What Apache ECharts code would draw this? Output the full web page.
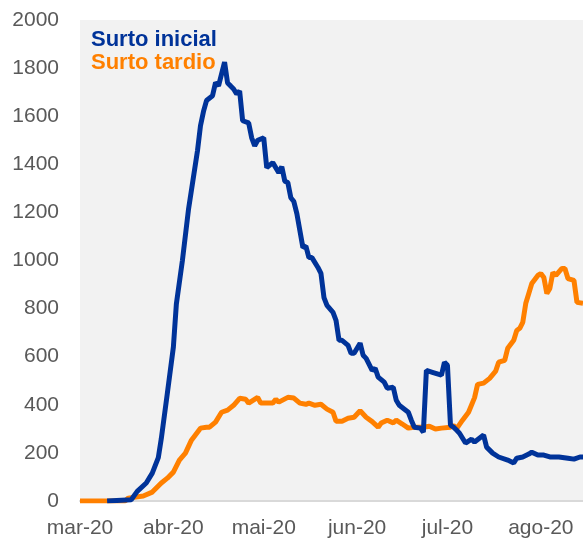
<!DOCTYPE html>
<html>
<head>
<meta charset="utf-8">
<script src="https://cdn.jsdelivr.net/npm/echarts@6/dist/echarts.min.js"></script>
<style>
  html, body { margin: 0; padding: 0; background: #fff; }
  #chart { width: 583px; height: 540px; }
</style>
</head>
<body>
<div id="chart"></div>
<script>
// month tick labels, one for the first day of each month
const monthLabels = { '03': 'mar-20', '04': 'abr-20', '05': 'mai-20', '06': 'jun-20', '07': 'jul-20', '08': 'ago-20' };

// Surto inicial (dates as MM-DD in 2020)
const inicialDates = ['03-10','03-18','03-20','03-23','03-25','03-27','03-28','03-30','04-01','04-02','04-04','04-06','04-09','04-10','04-11','04-12','04-14','04-15','04-16','04-18','04-19','04-20','04-21','04-22','04-23','04-24','04-26','04-27','04-28','04-29','05-01','05-02','05-04','05-06','05-07','05-08','05-09','05-10','05-11','05-12','05-14','05-15','05-16','05-17','05-19','05-20','05-21','05-22','05-24','05-25','05-26','05-27','05-29','05-30','05-31','06-02','06-03','06-04','06-06','06-07','06-08','06-10','06-11','06-13','06-14','06-15','06-18','06-19','06-20','06-22','06-23','06-24','06-26','06-29','06-30','07-01','07-02','07-03','07-04','07-05','07-07','07-09','07-10','07-13','07-14','07-16','07-18','07-21','07-23','07-24','07-26','07-28','07-29','07-31','08-02','08-04','08-07','08-10','08-12','08-14','08-15'];
const inicialValues = [0,5,40,75,116,180,260,448,640,820,1000,1210,1456,1560,1620,1665,1685,1740,1726,1825,1738,1726,1713,1693,1705,1581,1572,1510,1477,1500,1510,1386,1407,1365,1390,1330,1324,1261,1245,1195,1054,1060,1012,1012,971,946,846,813,784,751,668,668,647,614,614,656,606,593,543,552,515,494,469,473,419,398,369,336,307,303,286,543,535,523,577,564,315,307,295,282,241,257,245,274,224,199,183,170,158,178,183,195,203,191,191,183,183,178,174,183,183];

// Surto tardio
const tardioDates = ['03-01','03-16','03-17','03-22','03-25','03-28','03-30','04-01','04-03','04-05','04-07','04-10','04-12','04-13','04-15','04-17','04-19','04-21','04-23','04-25','04-26','04-29','04-30','05-04','05-05','05-06','05-09','05-11','05-13','05-15','05-16','05-18','05-20','05-22','05-24','05-25','05-27','05-29','05-31','06-02','06-04','06-06','06-08','06-09','06-11','06-13','06-14','06-16','06-18','06-20','06-23','06-25','06-27','06-29','07-02','07-03','07-04','07-06','07-08','07-10','07-11','07-13','07-15','07-17','07-18','07-20','07-21','07-23','07-24','07-25','07-26','07-27','07-28','07-29','07-31','08-01','08-02','08-03','08-04','08-05','08-06','08-08','08-09','08-10','08-12','08-13','08-15'];
const tardioValues = [0,0,12,21,37,75,95,120,170,199,253,303,307,307,328,369,378,398,427,423,407,431,407,407,423,411,431,428,407,402,407,398,402,382,369,332,332,344,348,375,348,330,307,324,336,325,336,320,303,307,307,311,299,303,307,315,300,336,369,430,485,490,510,540,577,585,635,668,709,718,743,822,863,904,938,946,929,863,884,950,938,967,967,925,917,826,822];

// every day from 1 Mar to 15 Aug 2020 as the x categories
const days = [];
let d = new Date(Date.UTC(2020, 2, 1));
while (d <= new Date(Date.UTC(2020, 7, 15))) {
  days.push(d.toISOString().slice(0, 10));
  d = new Date(d.getTime() + 86400000);
}

const chart = echarts.init(document.getElementById('chart'));
const blue = '#003399';
const orange = '#ff8000';
const fontFamily = '"Liberation Sans", Arial, sans-serif';

chart.setOption({
  animation: false,
  grid: {
    left: 80, right: 0, top: 20, bottom: 39,
    show: true, backgroundColor: '#f2f2f2', borderWidth: 0
  },
  legend: {
    orient: 'vertical',
    left: 81, top: 24,
    icon: 'none', itemWidth: 0, itemHeight: 0, itemGap: 1,
    selectedMode: false,
    textStyle: { fontSize: 22, fontWeight: 'bold', fontFamily: fontFamily },
    data: [
      { name: 'Surto inicial', textStyle: { color: blue } },
      { name: 'Surto tardio', textStyle: { color: orange } }
    ]
  },
  xAxis: {
    type: 'category',
    data: days,
    boundaryGap: false,
    axisLine: { lineStyle: { color: '#d9d9d9', width: 2 } },
    axisTick: { show: false },
    axisLabel: {
      interval: (i, v) => v.slice(8) === '01',
      formatter: v => monthLabels[v.slice(5, 7)],
      color: '#595959', fontSize: 21, fontFamily: fontFamily, margin: 17
    }
  },
  yAxis: {
    type: 'value',
    min: 0, max: 2000, interval: 200,
    splitLine: { show: false },
    axisLine: { show: false },
    axisTick: { show: false },
    axisLabel: { color: '#595959', fontSize: 21, fontFamily: fontFamily, margin: 21, formatter: v => String(v) }
  },
  series: [
    {
      name: 'Surto tardio',
      type: 'line',
      showSymbol: false,
      lineStyle: { color: orange, width: 5 },
      itemStyle: { color: orange },
      data: tardioDates.map((t, i) => ['2020-' + t, tardioValues[i]])
    },
    {
      name: 'Surto inicial',
      type: 'line',
      showSymbol: false,
      lineStyle: { color: blue, width: 5 },
      itemStyle: { color: blue },
      data: inicialDates.map((t, i) => ['2020-' + t, inicialValues[i]])
    }
  ]
});
</script>
</body>
</html>
